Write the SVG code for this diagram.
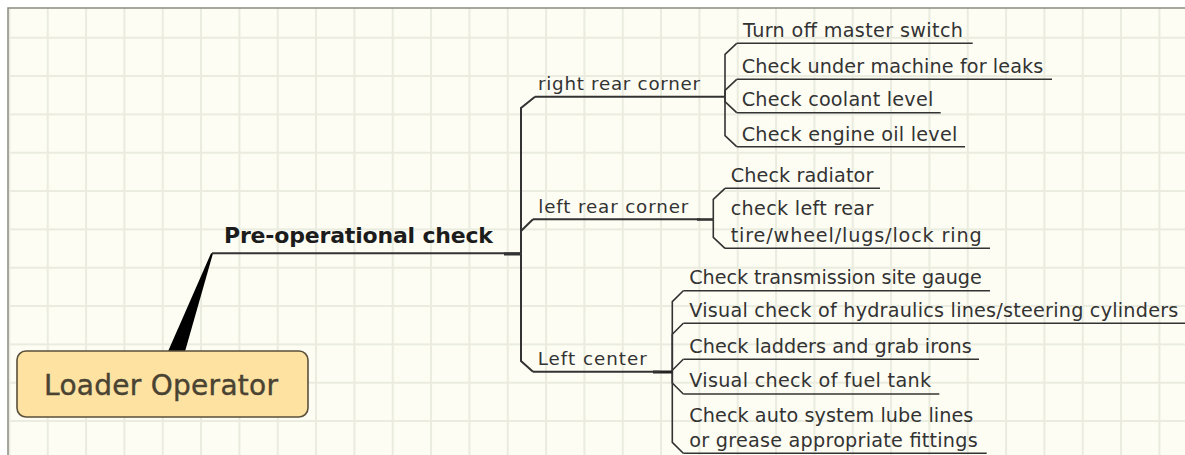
<svg xmlns="http://www.w3.org/2000/svg" width="1185" height="455" viewBox="0 0 1185 455">
  <defs>
    <pattern id="grid" patternUnits="userSpaceOnUse" x="8.4" y="-1.6" width="38.333" height="38.333">
      <rect width="38.333" height="38.333" fill="#fdfdf3"/>
      <path d="M0 1 H38.333 M1 0 V38.333" stroke="#e9ecdf" stroke-width="2" fill="none"/>
    </pattern>
    <style>
      .leaf { font-family: "DejaVu Sans", "Liberation Sans", sans-serif; font-size: 19.2px; fill: #333333; }
      .branch { font-family: "DejaVu Sans", "Liberation Sans", sans-serif; font-size: 18.3px; fill: #333333; }
      .main { font-family: "DejaVu Sans", "Liberation Sans", sans-serif; font-size: 22px; font-weight: bold; fill: #1c1c1c; }
      .root { font-family: "DejaVu Sans", "Liberation Sans", sans-serif; font-size: 28px; fill: #4a4332; stroke: #4a4332; stroke-width: 0.4; }
      .ul { stroke: #333; stroke-width: 1.6; fill: none; }
      .bl { stroke: #333; stroke-width: 2; fill: none; }
      .conn { stroke: #333; stroke-width: 1.6; fill: none; stroke-linejoin: miter; }
    </style>
  </defs>

  <rect x="0" y="0" width="1185" height="455" fill="#ffffff"/>
  <rect x="8" y="8" width="1177" height="447" fill="url(#grid)"/>
  <path d="M8 455 V8 H1185" stroke="#8a8a84" stroke-width="1.5" fill="none"/>

  <g id="connectors">
    <!-- root to main topic -->
    <polygon points="168,351.5 185,351.5 213,253.3 211,253.3" fill="#000"/>
    <!-- main to branches -->
    <path class="bl" d="M521 253.5 V108 L535 96.7"/>
    <path class="bl" d="M521 253.5 V231 L533 219.3"/>
    <path class="bl" d="M521 253.5 V361 L533 371.7"/>
    <path d="M504 254 H521" stroke="#333" stroke-width="3"/>
    <!-- right rear corner children -->
    <path class="conn" d="M725 96.7 V54.3 L736.7 43.3"/>
    <path class="conn" d="M725 96.7 V90.3 L736.7 79.3"/>
    <path class="conn" d="M725 96.7 V101.7 L736.7 112.7"/>
    <path class="conn" d="M725 96.7 V135.7 L736.7 146.7"/>
    <!-- left rear corner children -->
    <path class="conn" d="M713.3 219.3 V199.3 L725 188.3"/>
    <path class="conn" d="M713.3 219.3 V237.3 L725 248.3"/>
    <path d="M697 219.5 H713.3" stroke="#333" stroke-width="2.6"/>
    <!-- left center children -->
    <path class="conn" d="M672.3 371.7 V301.7 L683.3 290.7"/>
    <path class="conn" d="M672.3 371.7 V334.3 L683.3 323.3"/>
    <path class="conn" d="M672.3 371.7 V370.3 L683.3 359.3"/>
    <path class="conn" d="M672.3 371.7 V383 L683.3 394"/>
    <path class="conn" d="M672.3 371.7 V442.3 L683.3 453.3"/>
    <path d="M653 372 H672.3" stroke="#222" stroke-width="3"/>
  </g>

  <g id="root">
    <rect x="17" y="351" width="291" height="66" rx="9" ry="9" fill="#fde2a2" stroke="#5a4f3a" stroke-width="1.6"/>
    <text class="root" x="44" y="395" textLength="234">Loader Operator</text>
  </g>

  <g id="main-topic">
    <path class="bl" d="M212 253.3 H521"/>
    <text class="main" x="224" y="243.3" textLength="269">Pre-operational check</text>
  </g>

  <g id="right-rear-corner">
    <path class="bl" d="M535 96.7 H725"/>
    <text class="branch" x="538" y="90.2" textLength="162">right rear corner</text>
  </g>
  <g id="left-rear-corner">
    <path class="bl" d="M533 219.3 H700"/>
    <text class="branch" x="538.3" y="213.3" textLength="150">left rear corner</text>
  </g>
  <g id="left-center">
    <path class="bl" d="M533 371.7 H660"/>
    <text class="branch" x="537.7" y="365" textLength="109">Left center</text>
  </g>

  <g id="turn-off-master-switch">
    <path class="ul" d="M736.7 43.3 H972.7"/>
    <text class="leaf" x="743" y="36.8" textLength="220">Turn off master switch</text>
  </g>
  <g id="check-under-machine">
    <path class="ul" d="M736.7 79.3 H1052"/>
    <text class="leaf" x="741.7" y="72.5" textLength="301.6">Check under machine for leaks</text>
  </g>
  <g id="check-coolant-level">
    <path class="ul" d="M736.7 112.7 H940.7"/>
    <text class="leaf" x="741.7" y="106.2" textLength="191.6">Check coolant level</text>
  </g>
  <g id="check-engine-oil-level">
    <path class="ul" d="M736.7 146.7 H965"/>
    <text class="leaf" x="741.7" y="140.5" textLength="215.6">Check engine oil level</text>
  </g>

  <g id="check-radiator">
    <path class="ul" d="M725 188.3 H880"/>
    <text class="leaf" x="730.7" y="181.7" textLength="142.6">Check radiator</text>
  </g>
  <g id="check-left-rear-tire">
    <path class="ul" d="M725 248.3 H990"/>
    <text class="leaf" x="730.7" y="215.3" textLength="142.6">check left rear</text>
    <text class="leaf" x="730.7" y="241.5" textLength="251">tire/wheel/lugs/lock ring</text>
  </g>

  <g id="check-transmission">
    <path class="ul" d="M683.3 290.7 H990"/>
    <text class="leaf" x="689.3" y="284" textLength="292.4">Check transmission site gauge</text>
  </g>
  <g id="visual-check-hydraulics">
    <path class="ul" d="M683.3 323.3 H1185"/>
    <text class="leaf" x="689.3" y="316.8" textLength="489">Visual check of hydraulics lines/steering cylinders</text>
  </g>
  <g id="check-ladders">
    <path class="ul" d="M683.3 359.3 H979"/>
    <text class="leaf" x="689.3" y="352.6" textLength="282.4">Check ladders and grab irons</text>
  </g>
  <g id="visual-check-fuel-tank">
    <path class="ul" d="M683.3 394 H939.3"/>
    <text class="leaf" x="689.3" y="387.4" textLength="241.7">Visual check of fuel tank</text>
  </g>
  <g id="check-auto-system">
    <path class="ul" d="M683.3 453.3 H986.7"/>
    <text class="leaf" x="689.3" y="421.5" textLength="284">Check auto system lube lines</text>
    <text class="leaf" x="689.3" y="446.6" textLength="288.4">or grease appropriate fittings</text>
  </g>
</svg>
